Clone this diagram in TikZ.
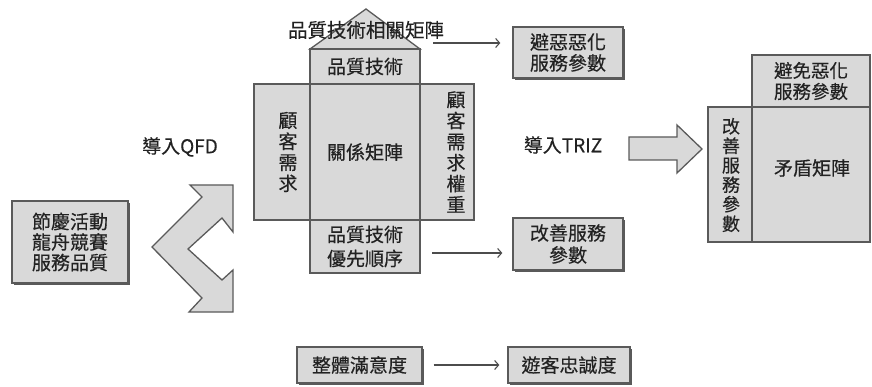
\documentclass[tikz,border=0pt]{standalone}
\usepackage{fontspec}
\newfontfamily\cjk[FakeBold=0.35]{Noto Sans CJK TC}
\usetikzlibrary{arrows.meta,shadows}
\definecolor{boxfill}{HTML}{D9D9D9}
\definecolor{boxline}{HTML}{5A5A5A}
\definecolor{txt}{HTML}{222222}
\newcommand\fsz[2]{\cjk\fontsize{#1}{#2}\selectfont}
\tikzset{
  every node/.style={font=\fsz{19}{20.5}, text=txt, inner sep=0pt, align=center},
  cell/.style={draw=boxline, fill=boxfill, line width=1.3pt},
  hcell/.style={cell, drop shadow={shadow xshift=1.2pt, shadow yshift=-1.2pt, fill=black!45, opacity=1}},
  sbox/.style={cell, drop shadow={shadow xshift=1.6pt, shadow yshift=-1.6pt, fill=black!65, opacity=1}},
  conn/.style={draw=black!70, line width=1.1pt, -{Straight Barb[length=4pt,width=9pt,line width=1.1pt]}},
  bigarrow/.style={draw=boxline, fill=boxfill, line width=1.3pt, line join=miter},
  vtext/.style={font=\fsz{19}{21}}
}
\begin{document}
\begin{tikzpicture}[x=1pt,y=-1pt]
\useasboundingbox (0,0) rectangle (872,387);

% left box
\node[sbox, minimum width=116pt, minimum height=82pt] (fest) at (70,242) {節慶活動\\龍舟競賽\\服務品質};

% chevron double arrow
\draw[bigarrow] (152,247) -- (202,197) -- (190,185) -- (233,185) -- (233,232) -- (222,218)
  -- (188,249) -- (222,280) -- (233,270) -- (233,312) -- (189,312) -- (202,298) -- cycle;

\node (qfd) at (180,147) {導入QFD};

% house of quality
\draw[cell] (310,49) -- (366,9) -- (420,49) -- cycle;
\node[hcell, minimum width=110pt, minimum height=35pt] (tech) at (365,66.5) {品質技術};
\node[hcell, minimum width=56pt, minimum height=136pt] (lwall) at (282,152) {};
\node[vtext] at (288,152) {顧\\客\\需\\求};
\node[hcell, minimum width=110pt, minimum height=136pt] (rel) at (365,152) {關係矩陣};
\node[hcell, minimum width=54pt, minimum height=136pt] (rwall) at (447,152) {};
\node[vtext] at (456,152) {顧\\客\\需\\求\\權\\重};
\node[hcell, minimum width=110pt, minimum height=53pt, font=\fsz{19}{24}] (prio) at (365,246.5) {品質技術\\優先順序};
\node[font=\fsz{19.5}{22}] (corr) at (366,30) {品質技術相關矩陣};

% outputs
\node[sbox, minimum width=110pt, minimum height=51pt, font=\fsz{19}{21}] (avoid) at (568,52.5) {避惡惡化\\服務參數};
\coordinate (a1) at (433,43);
\draw[conn, shorten >=12pt] (a1) -- (a1 -| avoid.west);

\node[sbox, minimum width=110pt, minimum height=52pt, font=\fsz{19}{22}] (improve) at (568,244) {改善服務\\參數};
\coordinate (a2) at (432,253);
\draw[conn, shorten >=10pt] (a2) -- (a2 -| improve.west);

% TRIZ
\node (triz) at (563,145) {導入TRIZ};
\draw[bigarrow] (629,137) -- (677,137) -- (677,125) -- (702,149) -- (677,173) -- (677,160) -- (629,160) -- cycle;

% contradiction matrix
\node[hcell, minimum width=118pt, minimum height=52pt, font=\fsz{18.5}{21}] (worsen) at (811,81) {避免惡化\\服務參數};
\node[hcell, minimum width=44pt, minimum height=135pt] (impcol) at (730,174.5) {};
\node[font=\fsz{18}{19.5}] at (731,175) {改\\善\\服\\務\\參\\數};
\node[hcell, minimum width=118pt, minimum height=135pt] (contra) at (811,174.5) {};
\node at (812,168) {矛盾矩陣};

% bottom
\node[sbox, minimum width=125pt, minimum height=36pt] (sat) at (359.5,365) {整體滿意度};
\node[sbox, minimum width=122pt, minimum height=36pt] (loyal) at (569,365) {遊客忠誠度};
\draw[conn, shorten <=11pt, shorten >=8pt] (sat) -- (loyal);
\end{tikzpicture}
\end{document}
